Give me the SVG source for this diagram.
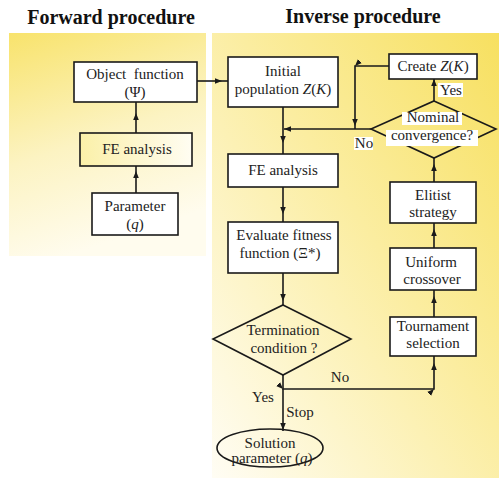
<svg xmlns="http://www.w3.org/2000/svg" width="499" height="478" viewBox="0 0 499 478">
<defs>
<linearGradient id="gL" x1="0" y1="0" x2="0.3" y2="1">
<stop offset="0" stop-color="#f8e36c"/>
<stop offset="0.55" stop-color="#fcf3c2"/>
<stop offset="1" stop-color="#fffcee"/>
</linearGradient>
<linearGradient id="gR" x1="1" y1="0" x2="0" y2="1">
<stop offset="0" stop-color="#f7e060"/>
<stop offset="0.45" stop-color="#fbeda0"/>
<stop offset="1" stop-color="#fffdf4"/>
</linearGradient>
<linearGradient id="gBox" x1="0" y1="0" x2="1" y2="0">
<stop offset="0" stop-color="#fbf0a8"/>
<stop offset="1" stop-color="#fffdf2"/>
</linearGradient>
<marker id="arr" markerUnits="userSpaceOnUse" markerWidth="8" markerHeight="8" viewBox="0 0 8 8" refX="7" refY="4" orient="auto">
<path d="M0,1.2 L7,4 L0,6.8 Z" fill="#1a1a1a"/>
</marker>
<style>
.box{fill:#fff;stroke:#1a1a1a;stroke-width:1.6}
.dia{fill:none;stroke:#1a1a1a;stroke-width:1.6}
.ln{fill:none;stroke:#1a1a1a;stroke-width:1.6}
.t{font-family:"Liberation Serif","Times New Roman",serif;font-size:15px;fill:#222;text-anchor:middle}
.ttl{font-family:"Liberation Serif","Times New Roman",serif;font-size:20px;font-weight:bold;fill:#111;text-anchor:middle}
.lbl{fill:#fff}
</style>
</defs>
<rect x="0" y="0" width="499" height="478" fill="#fff"/>
<rect x="9" y="33" width="197" height="223" fill="url(#gL)"/>
<rect x="212" y="33" width="287" height="445" fill="url(#gR)"/>
<text class="ttl" x="111" y="24">Forward procedure</text>
<text class="ttl" x="363" y="23">Inverse procedure</text>

<g id="connectors">
<path class="ln" d="M136,133 L136,113 L136,102" marker-mid="url(#arr)"/>
<path class="ln" d="M136,193 L136,171 L136,166" marker-mid="url(#arr)"/>
<path class="ln" d="M197,81 L222,81 L228,81" marker-mid="url(#arr)"/>
<path class="ln" d="M283,107 L283,143 L283,154" marker-mid="url(#arr)"/>
<path class="ln" d="M371,129 L284,129" marker-end="url(#arr)"/>
<path class="ln" d="M389,66 L355,66 L355,126 L355,129" marker-mid="url(#arr)"/>
<path class="ln" d="M434,101 L434,79" marker-end="url(#arr)"/>
<path class="ln" d="M283,187 L283,214 L283,222" marker-mid="url(#arr)"/>
<path class="ln" d="M434,182 L434,164 L434,158" marker-mid="url(#arr)"/>
<path class="ln" d="M434,248 L434,229 L434,223" marker-mid="url(#arr)"/>
<path class="ln" d="M434,317 L434,296 L434,290" marker-mid="url(#arr)"/>
<path class="ln" d="M283,273 L283,301 L283,305" marker-mid="url(#arr)"/>
<path class="ln" d="M283,375 L283,389 L434,389 L434,363 L434,356" marker-mid="url(#arr)"/>
<path class="ln" d="M283,389 L283,430 L283,431" marker-mid="url(#arr)"/>
</g>

<g id="objfun"><rect class="box" x="74" y="62" width="123" height="40"/>
<text class="t" x="135" y="79" xml:space="preserve">Object  function</text><text class="t" x="135" y="97">(Ψ)</text></g>
<g id="feL"><rect class="box" x="80" y="133" width="112" height="33" style="fill:url(#gBox)"/>
<text class="t" x="137" y="154">FE analysis</text></g>
<g id="param"><rect class="box" x="92" y="193" width="86" height="42"/>
<text class="t" x="135" y="211">Parameter</text><text class="t" x="135" y="229">(<tspan font-style="italic">q</tspan>)</text></g>

<g id="initial"><rect class="box" x="228" y="57" width="110" height="50"/>
<text class="t" x="283" y="76">Initial</text><text class="t" x="283" y="94">population <tspan font-style="italic">Z</tspan>(<tspan font-style="italic">K</tspan>)</text></g>
<g id="create"><rect class="box" x="389" y="54" width="88" height="25"/>
<text class="t" x="433" y="71">Create <tspan font-style="italic">Z</tspan>(<tspan font-style="italic">K</tspan>)</text></g>
<g id="nominal"><polygon class="dia" points="434,101 496,129 434,158 371,129"/>
<rect class="lbl" x="402" y="112" width="60" height="13"/>
<rect class="lbl" x="386" y="130" width="92" height="16"/>
<text class="t" x="433" y="122">Nominal</text><text class="t" x="432" y="140">convergence?</text></g>
<g id="feR"><rect class="box" x="228" y="154" width="110" height="33"/>
<text class="t" x="283" y="175">FE analysis</text></g>
<g id="elitist"><rect class="box" x="390" y="182" width="86" height="41"/>
<text class="t" x="433" y="200">Elitist</text><text class="t" x="433" y="217">strategy</text></g>
<g id="evaluate"><rect class="box" x="228" y="222" width="110" height="51"/>
<text class="t" x="284" y="240">Evaluate fitness</text><text class="t" x="280" y="258">function (Ξ*)</text></g>
<g id="uniform"><rect class="box" x="390" y="248" width="86" height="42"/>
<text class="t" x="431" y="267">Uniform</text><text class="t" x="432" y="284">crossover</text></g>
<g id="termination"><polygon class="dia" points="283,305 351,339 283,375 213,339"/>
<text class="t" x="283" y="335">Termination</text><text class="t" x="284" y="353">condition ?</text></g>
<g id="tournament"><rect class="box" x="390" y="317" width="86" height="39"/>
<text class="t" x="433" y="331">Tournament</text><text class="t" x="433" y="348">selection</text></g>
<g id="solution"><ellipse cx="270" cy="448" rx="53" ry="19" class="dia"/>
<text class="t" x="270" y="448">Solution</text><text class="t" x="272" y="463">parameter (<tspan font-style="italic">q</tspan>)</text></g>

<g id="labels">
<rect class="lbl" x="438" y="83" width="25" height="14"/>
<text class="t" x="451" y="95">Yes</text>
<rect class="lbl" x="354" y="137" width="19" height="13"/>
<text class="t" x="364" y="148">No</text>
<text class="t" x="340" y="382">No</text>
<text class="t" x="263" y="402">Yes</text>
<text class="t" x="300" y="417">Stop</text>
</g>
</svg>
